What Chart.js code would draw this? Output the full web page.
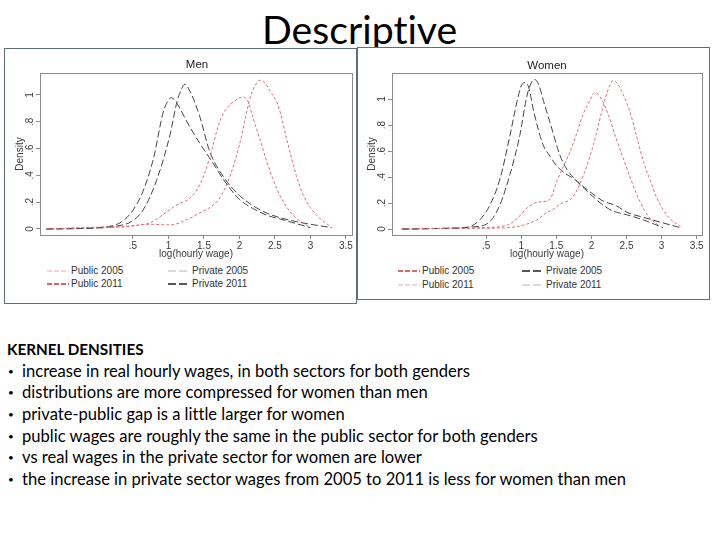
<!DOCTYPE html>
<html><head><meta charset="utf-8">
<script src="https://cdn.jsdelivr.net/npm/chart.js@4.4.1/dist/chart.umd.min.js"></script>
<style>
html,body{margin:0;padding:0;background:#fff;}
body{width:720px;height:540px;position:relative;overflow:hidden;font-family:"Liberation Sans",Arial,sans-serif;}
.abs{position:absolute;}
.box{position:absolute;border:1.5px solid #5d6d7e;background:#fff;box-sizing:border-box;}
.ptitle{position:absolute;font-size:11.5px;color:#222;transform:translate(-50%,-50%);white-space:nowrap;}
.leg{position:absolute;font-size:10px;color:#333;white-space:nowrap;line-height:12px;}
.leg svg{vertical-align:middle;margin-right:2px;}
.txt{position:absolute;left:0;white-space:nowrap;font-family:Lato,"Open Sans",sans-serif;color:#000;line-height:20px;height:20px;font-variant-ligatures:none;font-feature-settings:"liga" 0,"clig" 0,"dlig" 0;}
#slideTitle{position:absolute;white-space:nowrap;font-family:Lato,"Open Sans",sans-serif;color:#000;font-variant-ligatures:none;font-feature-settings:"liga" 0,"clig" 0,"dlig" 0;}
</style></head>
<body>
<div id="slideTitle">Descriptive</div>
<div class="box" style="left:4px;top:48px;width:353px;height:256px"></div>
<div class="box" style="left:357px;top:47px;width:353px;height:253px"></div>
<canvas id="menChart" class="abs" style="left:5px;top:60px" width="350" height="205"></canvas>
<canvas id="womenChart" class="abs" style="left:357px;top:60px" width="350" height="205"></canvas>
<div class="ptitle" style="left:197px;top:64px">Men</div>
<div class="ptitle" style="left:547px;top:65px">Women</div>
<div id="menLegend"></div>
<div id="womenLegend"></div>
<div id="notes"></div>
<script>
// ---------- tick labels ----------
const xTicks = [0.5, 1, 1.5, 2, 2.5, 3, 3.5];
const xTickLabels = ['.5', '1', '1.5', '2', '2.5', '3', '3.5'];
const yTicks = [0, 0.2, 0.4, 0.6, 0.8, 1];
const yTickLabels = ['0', '.2', '.4', '.6', '.8', '1'];
const seriesNames = ['Public 2005', 'Private 2005', 'Public 2011', 'Private 2011'];

// ---------- Men ----------
const menPublic2005X = [-0.72,-0.2,0.36,0.6,0.74,0.93,1.12,1.3,1.44,1.58,1.63,1.72,1.82,1.92,2.05,2.12,2.19,2.3,2.38,2.48,2.57,2.67,2.76,2.88,3.0];
const menPublic2005Y = [0,0.01,0.02,0.03,0.045,0.11,0.18,0.23,0.33,0.53,0.63,0.8,0.9,0.95,0.985,0.95,0.83,0.65,0.51,0.36,0.25,0.16,0.1,0.05,0.01];
const menPrivate2005X = [-0.72,-0.4,-0.1,0.1,0.25,0.36,0.5,0.64,0.79,0.93,1.0,1.035,1.08,1.15,1.26,1.44,1.58,1.8,2.0,2.2,2.4,2.6,2.8,3.0];
const menPrivate2005Y = [0,0.002,0.006,0.015,0.03,0.06,0.14,0.28,0.53,0.88,0.96,0.98,0.965,0.91,0.8,0.64,0.53,0.35,0.22,0.15,0.1,0.07,0.04,0.01];
const menPublic2011X = [-0.72,-0.2,0.36,0.74,1.02,1.3,1.44,1.58,1.72,1.87,2.0,2.08,2.15,2.22,2.29,2.36,2.43,2.54,2.67,2.8,2.9,3.0,3.09,3.3];
const menPublic2011Y = [0,0.008,0.015,0.035,0.03,0.08,0.12,0.16,0.23,0.4,0.63,0.82,0.98,1.07,1.11,1.09,1.03,0.93,0.66,0.4,0.25,0.16,0.1,0.01];
const menPrivate2011X = [-0.72,-0.4,-0.1,0.2,0.35,0.46,0.64,0.83,1.02,1.12,1.18,1.23,1.3,1.44,1.58,1.8,2.0,2.2,2.4,2.6,2.8,3.0,3.3];
const menPrivate2011Y = [0,0.002,0.005,0.015,0.03,0.05,0.14,0.36,0.7,0.95,1.04,1.08,1.03,0.84,0.58,0.37,0.25,0.17,0.115,0.08,0.055,0.035,0.01];

// ---------- Women ----------
const womenPublic2005X = [-0.7,-0.2,0.4,0.8,0.94,1.08,1.2,1.3,1.41,1.51,1.6,1.7,1.8,1.88,1.97,2.05,2.12,2.24,2.35,2.45,2.55,2.65,2.75,2.84,2.98];
const womenPublic2005Y = [0,0.005,0.01,0.03,0.08,0.16,0.2,0.21,0.23,0.37,0.48,0.6,0.75,0.88,0.98,1.05,1.02,0.88,0.7,0.55,0.4,0.26,0.15,0.08,0.02];
const womenPrivate2005X = [-0.7,-0.4,-0.1,0.24,0.41,0.56,0.7,0.84,0.94,1.0,1.04,1.1,1.18,1.31,1.41,1.5,1.62,1.77,1.9,2.02,2.15,2.24,2.35,2.5,2.74,3.0,3.27];
const womenPrivate2005Y = [0,0.002,0.005,0.015,0.07,0.19,0.39,0.72,0.98,1.1,1.125,1.1,0.9,0.65,0.56,0.49,0.43,0.38,0.32,0.27,0.22,0.2,0.18,0.13,0.09,0.05,0.01];
const womenPublic2011X = [-0.7,-0.2,0.4,0.8,1.03,1.22,1.37,1.45,1.55,1.74,1.89,2.03,2.17,2.25,2.31,2.37,2.43,2.55,2.64,2.74,2.84,2.93,3.1,3.27];
const womenPublic2011Y = [0,0.004,0.006,0.01,0.03,0.07,0.13,0.15,0.19,0.25,0.42,0.65,0.95,1.09,1.14,1.12,1.06,0.9,0.72,0.52,0.37,0.24,0.09,0.02];
const womenPrivate2011X = [-0.7,-0.4,-0.1,0.3,0.56,0.7,0.84,0.98,1.08,1.14,1.19,1.25,1.32,1.41,1.55,1.65,1.77,1.9,2.02,2.15,2.3,2.5,2.74,3.02];
const womenPrivate2011Y = [0,0.002,0.005,0.015,0.06,0.19,0.42,0.72,1.02,1.12,1.15,1.11,0.98,0.82,0.57,0.46,0.38,0.31,0.25,0.19,0.14,0.11,0.07,0.01];

// ---------- notes ----------
const notesHeading = 'KERNEL DENSITIES';
const notesBullets = [
  'increase in real hourly wages, in both sectors for both genders',
  'distributions are more compressed for women than men',
  'private-public gap is a little larger for women',
  'public wages are roughly the same in the public sector for both genders',
  'vs real wages in the private sector for women are lower',
  'the increase in private sector wages from 2005 to 2011 is less for women than men'
];

const RED = '#d9707c', DARK = '#444444';
const RED_DASH = [3, 2], DARK_DASH = [7, 3];

function pts(xs, ys){ return xs.map((x,i)=>({x:x, y:ys[i]})); }
function ds(label, xs, ys, color, dash){
  return {label, data: pts(xs, ys), borderColor: color, borderWidth: 1, borderDash: dash,
    pointRadius: 0, fill: false, cubicInterpolationMode: 'monotone'};
}

const stataPlugin = {
  id: 'stata',
  afterDraw(chart, args, opts){
    const {ctx, chartArea: a, scales} = chart;
    ctx.save();
    ctx.strokeStyle = '#8c8c8c'; ctx.lineWidth = 1; ctx.setLineDash([]);
    ctx.strokeRect(Math.round(a.left)+0.5, Math.round(a.top)+0.5, Math.round(a.right-a.left), Math.round(a.bottom-a.top));
    ctx.fillStyle = '#3a3a3a';
    ctx.font = '10px "Liberation Sans", Arial, sans-serif';
    ctx.textAlign = 'center'; ctx.textBaseline = 'middle';
    yTicks.forEach((v,i)=>{
      const py = scales.y.getPixelForValue(v);
      ctx.save(); ctx.translate(opts.labelX, py); ctx.rotate(-Math.PI/2);
      ctx.fillText(yTickLabels[i], 0, 0); ctx.restore();
    });
    ctx.save(); ctx.translate(opts.titleX, (a.top+a.bottom)/2); ctx.rotate(-Math.PI/2);
    ctx.fillText('Density', 0, 0); ctx.restore();
    ctx.fillText('log(hourly wage)', (a.left+a.right)/2, opts.xTitleY);
    ctx.restore();
  }
};

function makeChart(id, datasets, xmin, xmax, ymin, ymax, padRight){
  return new Chart(document.getElementById(id), {
    type: 'line',
    data: {datasets},
    options: {
      responsive: false, animation: false, events: [], devicePixelRatio: 1,
      layout: {padding: {left: 0, top: 13, right: padRight, bottom: 0}},
      plugins: {legend: {display: false}, tooltip: {enabled: false},
        stata: {labelX: 25, titleX: 15, xTitleY: 194}},
      scales: {
        x: {type: 'linear', min: xmin, max: xmax,
          afterBuildTicks: s => { s.ticks = xTicks.map(v=>({value:v})); },
          afterFit: s => { s.height = 30; },
          ticks: {callback: (v) => xTickLabels[xTicks.indexOf(v)], color: '#3a3a3a', padding: 1, maxRotation: 0,
            font: {family: '"Liberation Sans", Arial, sans-serif', size: 10}},
          grid: {display: true, drawOnChartArea: false, drawTicks: true, tickLength: 4, color: '#8c8c8c'},
          border: {display: true, color: '#8c8c8c'}},
        y: {type: 'linear', min: ymin, max: ymax,
          afterBuildTicks: s => { s.ticks = yTicks.map(v=>({value:v})); },
          afterFit: s => { s.width = 35; },
          ticks: {display: false},
          grid: {display: true, drawOnChartArea: false, drawTicks: true, tickLength: 4, color: '#8c8c8c'},
          border: {display: true, color: '#8c8c8c'}}
      }
    },
    plugins: [stataPlugin]
  });
}

makeChart('menChart', [
  ds(seriesNames[0], menPublic2005X, menPublic2005Y, RED, RED_DASH),
  ds(seriesNames[1], menPrivate2005X, menPrivate2005Y, DARK, DARK_DASH),
  ds(seriesNames[2], menPublic2011X, menPublic2011Y, RED, RED_DASH),
  ds(seriesNames[3], menPrivate2011X, menPrivate2011Y, DARK, DARK_DASH)
], -0.81, 3.585, -0.045, 1.164, 3);

makeChart('womenChart', [
  ds(seriesNames[0], womenPublic2005X, womenPublic2005Y, RED, RED_DASH),
  ds(seriesNames[1], womenPrivate2005X, womenPrivate2005Y, DARK, DARK_DASH),
  ds(seriesNames[2], womenPublic2011X, womenPublic2011Y, RED, RED_DASH),
  ds(seriesNames[3], womenPrivate2011X, womenPrivate2011Y, DARK, DARK_DASH)
], -0.84, 3.575, -0.046, 1.2, 5);

// ---------- legends ----------
function legendItem(x, y, name, color, dash){
  const d = document.createElement('div');
  d.className = 'leg';
  d.style.left = x + 'px'; d.style.top = (y - 6) + 'px';
  d.innerHTML = `<svg width="22" height="6"><line x1="0" y1="3" x2="22" y2="3" stroke="${color}" stroke-width="1.3" stroke-dasharray="${dash}"/></svg>${name}`;
  return d;
}
const menLegColors = ['#f2c4ca', '#cfcfcf', '#d42a3a', '#222'];
const womenLegColors = ['#c83444', '#222', '#f2c4ca', '#cfcfcf'];
const legDash = ['5,2', '8,3', '5,2', '8,3'];
[[47,271],[168,271],[47,284],[168,284]].forEach((p,i)=>{
  document.getElementById('menLegend').appendChild(legendItem(p[0], p[1], seriesNames[i], menLegColors[i], legDash[i]));
});
[[398,271],[522,271],[398,285],[522,285]].forEach((p,i)=>{
  document.getElementById('womenLegend').appendChild(legendItem(p[0], p[1], seriesNames[i], womenLegColors[i], legDash[i]));
});

// ---------- text ----------
const mctx = document.createElement('canvas').getContext('2d');
function fit(text, weight, target){
  mctx.font = `${weight} 100px Lato, "Open Sans", sans-serif`;
  return 100 * target / mctx.measureText(text).width;
}
const t = document.getElementById('slideTitle');
const tSize = fit('Descriptive', 400, 196);
t.style.fontSize = tSize + 'px';
t.style.lineHeight = '1';
t.style.left = (360 - 98) + 'px';
t.style.top = (31 - tSize*0.55) + 'px';

const bodySize = fit(notesBullets[5], 400, 606);
const notes = document.getElementById('notes');
const lineY = [349, 371, 392, 414, 436, 457, 479];
const h = document.createElement('div');
h.className = 'txt'; h.style.left = '7px'; h.style.top = (lineY[0]-10)+'px';
h.style.fontWeight = '700'; h.style.fontSize = fit(notesHeading, 700, 137) + 'px';
h.textContent = notesHeading; notes.appendChild(h);
notesBullets.forEach((s,i)=>{
  const b = document.createElement('div');
  b.className = 'txt'; b.style.left = '8px'; b.style.top = (lineY[i+1]-10)+'px';
  b.style.fontSize = '10px'; b.textContent = '•';
  notes.appendChild(b);
  const d = document.createElement('div');
  d.className = 'txt'; d.style.left = '22px'; d.style.top = (lineY[i+1]-10)+'px';
  d.style.fontSize = bodySize + 'px'; d.textContent = s;
  notes.appendChild(d);
});
</script>
</body></html>
